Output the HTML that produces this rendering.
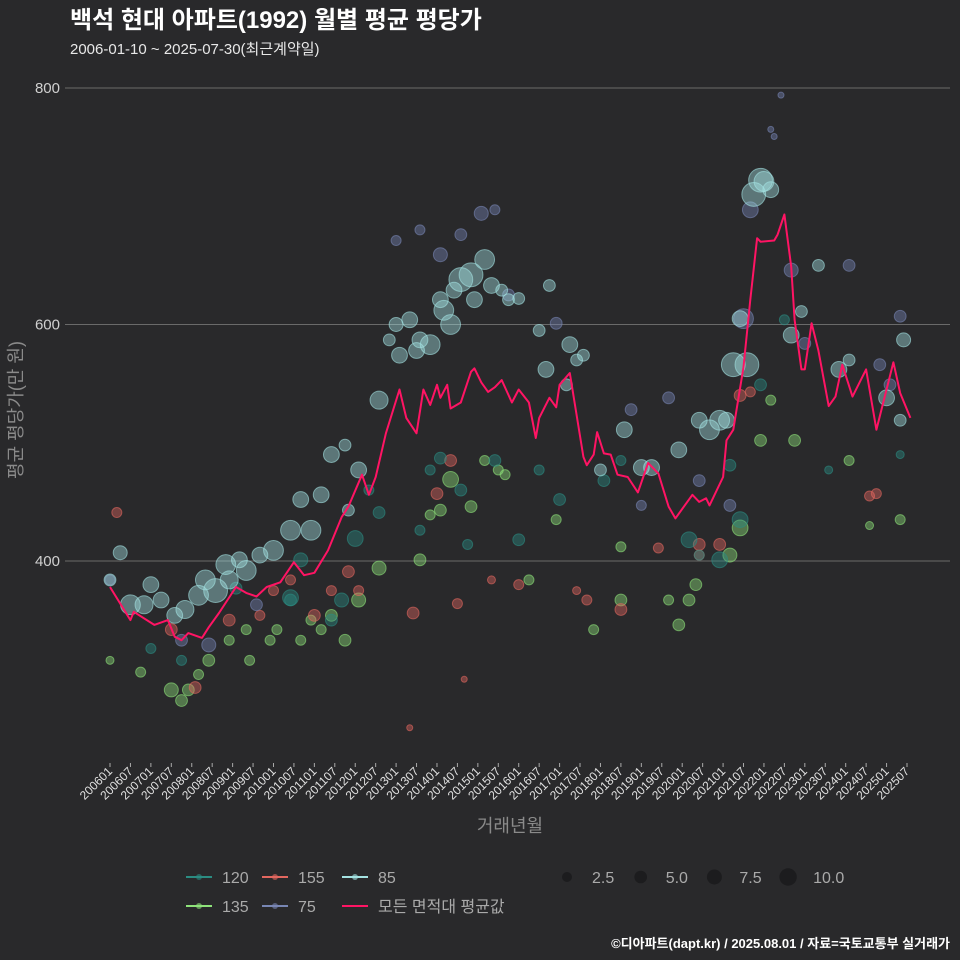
<!DOCTYPE html>
<html><head><meta charset="utf-8">
<style>
html,body{margin:0;padding:0;background:#29292b;}
svg{display:block;font-family:"Liberation Sans","Noto Sans CJK KR",sans-serif;}
</style></head>
<body>
<svg id="chart" width="960" height="960" viewBox="0 0 960 960">
<rect x="0" y="0" width="960" height="960" fill="#29292b"/>
<text x="70" y="28" font-size="24" font-weight="bold" fill="#ffffff">백석 현대 아파트(1992) 월별 평균 평당가</text>
<text x="70" y="54" font-size="15" fill="#e8e8e8">2006-01-10 ~ 2025-07-30(최근계약일)</text>
<g id="grid"></g>
<g id="yticks"></g>
<text transform="translate(22,410) rotate(-90)" text-anchor="middle" font-size="18" fill="#8a8a8a">평균 평당가(만 원)</text>
<g id="points"></g>
<path id="meanline" fill="none" stroke="#ff1464" stroke-width="2" stroke-linejoin="round"/>
<g id="xticks"></g>
<text x="510" y="832" text-anchor="middle" font-size="18" fill="#8a8a8a">거래년월</text>
<g id="legend"></g>
<text x="950" y="948" text-anchor="end" font-size="13" font-weight="bold" fill="#ffffff">©디아파트(dapt.kr) / 2025.08.01 / 자료=국토교통부 실거래가</text>
</svg>
<script>
const yTicks=[400,600,800];
const xTickLabels=[];
for(let y=2006;y<=2025;y++){xTickLabels.push(y+"01");xTickLabels.push(y+"07");}
const lineMonths=["200601","200607","200608","200702","200706","200708","200710","200712","200804","200806","200809","200902","200905","200908","200911","201003","201007","201010","201101","201105","201109","201111","201203","201205","201207","201210","201302","201304","201307","201309","201311","201401","201402","201404","201405","201408","201411","201412","201502","201504","201506","201508","201511","201601","201604","201606","201607","201610","201612","201701","201704","201708","201709","201711","201712","201802","201804","201806","201809","201812","201903","201906","201909","201911","202004","202006","202008","202009","202101","202102","202104","202107","202109","202111","202112","202204","202205","202207","202209","202210","202212","202301","202303","202305","202308","202310","202312","202403","202407","202410","202503","202505","202508"];
const lineValues=[378,350,357,346,350,336,333,339,335,344,356,378,373,370,378,382,399,388,390,409,437,446,473,456,471,508,545,521,508,545,532,549,538,549,529,534,560,563,551,543,547,553,534,545,534,504,521,538,530,549,559,488,481,490,509,491,490,473,471,458,483,474,446,436,456,450,453,447,471,502,511,564,621,673,670,671,676,693,649,604,562,562,601,578,531,539,566,539,562,511,568,542,521];
const groupColors={"120":"#2b8c82","155":"#e2675f","85":"#a4e2e2","135":"#8ee27a","75":"#7886b4"};
const pts85=[["200601",384,4],["200604",407,6.5],["200607",363,16],["200611",363,12.6],["200701",380,9],["200704",367,9],["200708",354,9],["200711",359,12.6],["200803",371,16],["200805",384,16],["200808",375,25],["200811",397,16],["200812",384,12.6],["200903",401,9],["200905",392,16],["200909",405,9],["201001",409,16],["201006",426,16],["201009",452,9],["201012",426,16],["201103",456,9],["201106",490,9],["201110",498,4],["201111",443,4],["201202",477,9],["201208",536,12.6],["201211",587,4],["201301",600,6.5],["201302",574,9],["201305",604,9],["201307",578,9],["201308",587,9],["201311",583,16],["201402",621,9],["201403",612,16],["201405",600,16],["201406",629,9],["201408",638,25],["201411",642,25],["201412",621,9],["201503",655,16],["201505",633,9],["201508",629,4],["201510",621,4],["201601",622,4],["201607",595,4],["201609",562,9],["201610",633,4],["201703",549,4],["201704",583,9],["201706",570,4],["201708",574,4],["201801",477,4],["201808",511,9],["201901",479,9],["201904",479,9],["201912",494,9],["202006",519,9],["202009",511,16],["202012",519,16],["202102",519,9],["202104",566,25],["202106",605,9],["202108",566,25],["202110",710,25],["202112",722,25],["202201",721,16],["202203",714,9],["202209",591,9],["202212",611,4],["202305",650,4],["202311",562,9],["202402",570,4],["202501",538,9],["202505",519,4],["202506",587,6.5]];
const pts75=[["200601",384,2.4],["200710",333,4],["200806",329,6.5],["200908",363,4],["201301",671,2.4],["201308",680,2.4],["201402",659,6.5],["201408",676,4],["201502",694,6.5],["201506",697,2.4],["201510",625,4],["201612",601,4],["201810",528,4],["201901",447,2.4],["201909",538,4],["202006",468,4],["202103",447,4],["202107",605,16],["202109",697,9],["202203",765,0.3],["202204",759,0.3],["202206",794,0.3],["202209",646,6.5],["202301",584,4],["202402",650,4],["202411",566,4],["202502",549,4],["202505",607,4]];
const pts120=[["200701",326,2.4],["200710",316,2.4],["200902",377,4],["201006",369,9],["201006",367,4],["201009",401,6.5],["201106",350,4],["201109",367,6.5],["201201",419,9],["201205",460,2.4],["201208",441,4],["201308",426,2.4],["201311",477,2.4],["201402",487,4],["201408",460,4],["201410",414,2.4],["201506",485,4],["201601",418,4],["201607",477,2.4],["201701",452,4],["201802",468,4],["201807",485,2.4],["202003",418,9],["202006",405,2.4],["202012",401,9],["202103",481,4],["202106",435,9],["202112",549,4],["202207",604,2.4],["202308",477,1.1],["202505",490,1.1]];
const pts135=[["200601",316,1.1],["200610",306,2.4],["200707",291,6.5],["200710",282,4],["200712",291,4],["200803",304,2.4],["200806",316,4],["200812",333,2.4],["200905",342,2.4],["200906",316,2.4],["200912",333,2.4],["201002",342,2.4],["201009",333,2.4],["201012",350,2.4],["201103",342,2.4],["201106",354,4],["201110",333,4],["201202",367,6.5],["201208",394,6.5],["201308",401,4],["201311",439,2.4],["201402",443,4],["201405",469,9],["201411",446,4],["201503",485,2.4],["201507",477,2.4],["201509",473,2.4],["201604",384,2.4],["201612",435,2.4],["201711",342,2.4],["201807",412,2.4],["201807",367,4],["201909",367,2.4],["201912",346,4],["202003",367,4],["202005",380,4],["202103",405,6.5],["202106",428,9],["202112",502,4],["202203",536,2.4],["202210",502,4],["202402",485,2.4],["202408",430,1.1],["202505",435,2.4]];
const pts155=[["200603",441,2.4],["200707",342,4],["200802",293,4],["200812",350,4],["200909",354,2.4],["201001",375,2.4],["201006",384,2.4],["201101",354,4],["201106",375,2.4],["201111",391,4],["201202",375,2.4],["201305",259,0.3],["201306",356,4],["201401",457,4],["201405",485,4],["201407",364,2.4],["201409",300,0.3],["201505",384,1.1],["201601",380,2.4],["201706",375,1.1],["201709",367,2.4],["201807",359,4],["201906",411,2.4],["202006",405,2.4],["202006",414,4],["202012",414,4],["202106",540,4],["202109",543,2.4],["202408",455,2.4],["202410",457,2.4]];
const sizeLegend=[2.5,5.0,7.5,10.0];

const NS="http://www.w3.org/2000/svg";
function mk(tag,attrs,parent){const e=document.createElementNS(NS,tag);for(const k in attrs)e.setAttribute(k,attrs[k]);parent.appendChild(e);return e;}
function monthIdx(s){return (parseInt(s.slice(0,4))-2006)*12+parseInt(s.slice(4,6))-1;}
function xS(s){return 110+monthIdx(s)*3.406;}
function yS(v){return 561-(v-400)*1.1825;}
function rS(s){return 1.9+2*Math.sqrt(s);}

const grid=document.getElementById('grid'),yt=document.getElementById('yticks');
yTicks.forEach(v=>{
  const l=mk('line',{x1:65,x2:950,y1:yS(v),y2:yS(v),stroke:'#6a6a6a','stroke-width':1},grid);
  
  
  const t=mk('text',{x:60,y:yS(v)+5,'text-anchor':'end','font-size':15,fill:'#d0d0d0'},yt);
  t.textContent=v;
  
  
});
const xt=document.getElementById('xticks');
xTickLabels.forEach(s=>{
  const x=xS(s);
  const tk=mk('line',{x1:x,x2:x,y1:763,y2:767,stroke:'#aaaaaa','stroke-width':1},xt);
  
  
  const t=mk('text',{x:x+3,y:772,'text-anchor':'end','font-size':12,fill:'#e0e0e0',transform:'rotate(-45 '+(x+3)+' 772)'},xt);
  t.textContent=s;
  
  
});
const pg=document.getElementById('points');
const groups={"120":pts120,"155":pts155,"85":pts85,"135":pts135,"75":pts75};
["135","155","120","75","85"].forEach(g=>{
  groups[g].forEach(p=>{
    const c=mk('circle',{cx:xS(p[0]),cy:yS(p[1]),r:rS(p[2]),fill:groupColors[g],'fill-opacity':0.42,stroke:groupColors[g],'stroke-opacity':0.6,'stroke-width':1},pg);
    
    
  });
});
document.getElementById('meanline').setAttribute('d',lineMonths.map((m,i)=>(i?'L':'M')+xS(m).toFixed(1)+','+yS(lineValues[i]).toFixed(1)).join(''));

const lg=document.getElementById('legend');
const legItems=[["120",186,877],["155",262,877],["85",342,877],["135",186,906],["75",262,906]];
legItems.forEach(it=>{
  const col=groupColors[it[0]];
  const l=mk('line',{x1:it[1],x2:it[1]+26,y1:it[2],y2:it[2],stroke:col,'stroke-width':2},lg);
  
  
  const c=mk('circle',{cx:it[1]+13,cy:it[2],r:3,fill:col,'fill-opacity':0.6},lg);
  
  
  const t=mk('text',{x:it[1]+36,y:it[2]+6,'font-size':16,fill:'#aaaaaa'},lg);
  t.textContent=it[0];
  
  
});
const ml=mk('line',{x1:342,x2:368,y1:906,y2:906,stroke:'#ff1464','stroke-width':2},lg);


const mt=mk('text',{x:378,y:912,'font-size':16,fill:'#aaaaaa'},lg);
mt.textContent='모든 면적대 평균값';


const sr=[5,6.3,7.5,8.7];
sizeLegend.forEach((s,i)=>{
  const x=567+i*73.7;
  const c=mk('circle',{cx:x,cy:877,r:sr[i],fill:'#1c1c1e'},lg);
  
  
  const t=mk('text',{x:x+25,y:883,'font-size':16,fill:'#aaaaaa'},lg);
  t.textContent=s.toFixed(1);
  
  
});
</script>
</body></html>
